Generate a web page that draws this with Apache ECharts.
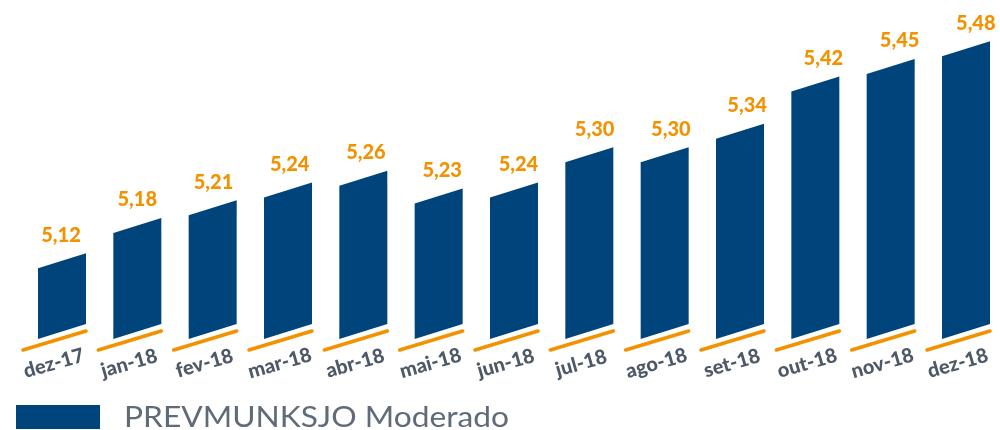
<!DOCTYPE html>
<html>
<head>
<meta charset="utf-8">
<script src="https://cdn.jsdelivr.net/npm/echarts@6/dist/echarts.min.js"></script>
<style>
html,body{margin:0;padding:0;background:#fff;}
#chart{width:1000px;height:430px;}
</style>
</head>
<body>
<div id="chart"></div>
<script>
const categories = ['dez-17','jan-18','fev-18','mar-18','abr-18','mai-18','jun-18','jul-18','ago-18','set-18','out-18','nov-18','dez-18'];
const values = [5.12, 5.18, 5.21, 5.24, 5.26, 5.23, 5.24, 5.30, 5.30, 5.34, 5.42, 5.45, 5.48];
const seriesName = 'PREVMUNKSJO Moderado';
const yMin = 5.0;
const yMax = 5.55;

const BAR = '#00447c';
const ORANGE = '#f39200';
const LABEL_GRAY = '#4e5967';
const LEGEND_GRAY = '#5f6b78';
const FONT = 'Lato, "Open Sans", sans-serif';

const valFont = '900 20px ' + FONT;
const legendFont = '400 28px ' + FONT;

// measure to fit the legend text width of the reference
const cnv = document.createElement('canvas').getContext('2d');
cnv.font = legendFont;
const legendW = cnv.measureText(seriesName).width || 330;
const legendScale = 385 / legendW;

const chart = echarts.init(document.getElementById('chart'));

function renderItem(params, api) {
  const idx = api.value(0);
  const v = api.value(1);
  const top = api.coord([idx, v]);
  const base = api.coord([idx, yMin]);
  const cx = top[0];
  const half = 24;
  const slant = 15;
  const lx = cx - half, rx = cx + half;
  const yT = top[1], yB = base[1];
  return {
    type: 'group',
    children: [
      {
        type: 'polygon',
        shape: { points: [[lx, yB], [rx, yB - slant], [rx, yT - slant], [lx, yT]] },
        style: { fill: BAR }
      },
      {
        type: 'line',
        shape: { x1: lx - 15, y1: yB + 11, x2: rx, y2: yB - slant + 7 },
        style: { stroke: ORANGE, lineWidth: 3.5, lineCap: 'round' }
      },
      {
        type: 'text',
        x: cx + idx * 0.9 - 1,
        y: yT - 33,
        style: {
          text: v.toFixed(2).replace('.', ','),
          fill: ORANGE,
          font: valFont,
          align: 'center',
          verticalAlign: 'middle'
        }
      }
    ]
  };
}

chart.setOption({
  animation: false,
  grid: { left: 62, right: 34, top: 15, bottom: 91 },
  xAxis: {
    type: 'category',
    data: categories,
    boundaryGap: false,
    axisLine: { show: false },
    axisTick: { show: false },
    splitLine: { show: false },
    axisLabel: {
      interval: 0,
      rotate: 16,
      align: 'center',
      verticalAlign: 'middle',
      margin: 22,
      padding: [0, 17, 0, 0],
      color: LABEL_GRAY,
      fontFamily: FONT,
      fontWeight: 900,
      fontSize: 20
    }
  },
  yAxis: {
    type: 'value',
    min: yMin,
    max: yMax,
    show: false
  },
  graphic: [
    {
      type: 'rect',
      left: 16,
      top: 405,
      shape: { width: 84, height: 24 },
      style: { fill: BAR }
    },
    {
      type: 'text',
      x: 124,
      y: 418,
      scaleX: legendScale,
      style: {
        text: seriesName,
        x: 0,
        y: 0,
        font: legendFont,
        fill: LEGEND_GRAY,
        align: 'left',
        verticalAlign: 'middle'
      }
    }
  ],
  series: [{
    type: 'custom',
    name: seriesName,
    itemStyle: { color: BAR },
    renderItem: renderItem,
    clip: false,
    encode: { x: 0, y: 1 },
    data: values.map((v, i) => [i, v])
  }]
});
</script>
</body>
</html>
